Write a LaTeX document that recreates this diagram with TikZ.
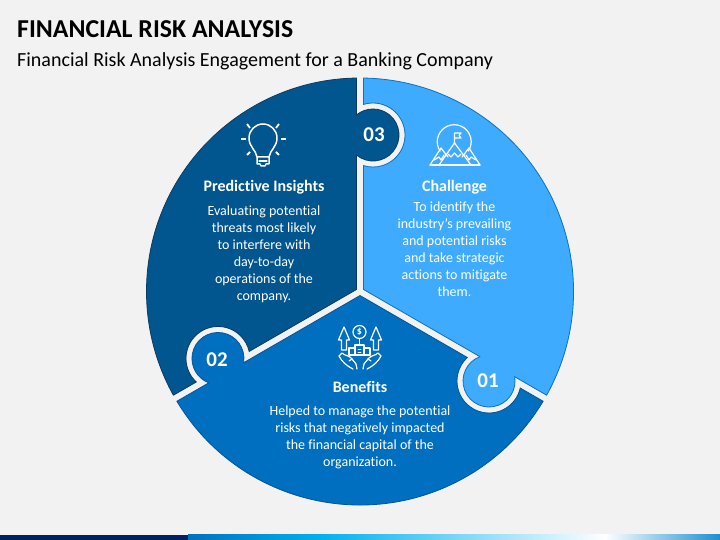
\documentclass[tikz,border=0pt]{standalone}
\usepackage{fontspec}
\setmainfont[Ligatures=NoCommon]{Carlito}
\definecolor{pagebg}{HTML}{F2F2F2}
\definecolor{darkfill}{HTML}{02568F}
\definecolor{darkline}{HTML}{0B3A62}
\definecolor{midfill}{HTML}{006FC0}
\definecolor{midline}{HTML}{00559A}
\definecolor{lightfill}{HTML}{3FABFF}
\definecolor{lightline}{HTML}{0A72BE}
\definecolor{barnavy}{HTML}{002060}
\definecolor{barblue}{HTML}{0070C0}
\definecolor{barcyan}{HTML}{00B0F0}
\definecolor{barend}{HTML}{1C8FD0}
\tikzset{
  pxgrid/.style={yshift=540pt,y=-1pt},
  sectorline/.style={line width=.8pt,line join=miter},
  head/.style={text=white,font=\fontsize{16}{17}\selectfont\bfseries},
  body/.style={text=white,align=center,font=\fontsize{14}{17}\selectfont},
  tabnum/.style={text=white,font=\fontsize{21}{21}\selectfont\bfseries},
  icon/.style={draw=white,line width=1.2pt,line join=round,line cap=round},
}
\begin{document}
\begin{tikzpicture}[x=1pt,y=1pt]
\useasboundingbox (0,0) rectangle (720,540);
\fill[pagebg] (0,0) rectangle (720,540);
% bottom bar
\fill[barnavy] (0,0) rectangle (188,5);
\shade[left color=barblue,right color=barcyan] (188,0) rectangle (320,5);
\shade[left color=barcyan,right color=white] (320,0) rectangle (605,5);
\shade[left color=white,right color=barend] (605,0) rectangle (720,5);
% three sectors, one shape turned about the middle
\foreach \ang/\fillc/\linec in {0/darkfill/darkline,120/midfill/midline,-120/lightfill/lightline}{
\draw[sectorline,fill=\fillc,draw=\linec,shift={(360,248.5)},rotate=\ang]
  (-3.5,2.02) -- (-3.5,136.41)
  arc[start angle=-129.4,end angle=129.4,radius=26]
  -- (-3.5,213.47)
  arc[start angle=90.94,end angle=209.06,radius=213.5]
  -- (-163.72,-90.49)
  arc[start angle=227.27,end angle=12.73,radius=32]
  -- cycle;
}
\begin{scope}[pxgrid]
\node[anchor=base west,inner sep=0pt,font=\fontsize{25.8}{26}\selectfont\bfseries] (title) at (17,38) {FINANCIAL RISK ANALYSIS};
\node[anchor=base west,inner sep=0pt,font=\fontsize{20}{20}\selectfont] (subtitle) at (17,67) {Financial Risk Analysis Engagement for a Banking Company};
% tab numbers
\node[tabnum] (num3) at (374,135) {03};
\node[tabnum] (num2) at (217,360) {02};
\node[tabnum] (num1) at (488,381) {01};
% texts
\node[head] (insights) at (264,187) {Predictive Insights};
\node[body] (insightstext) at (264,254) {Evaluating potential\\threats most likely\\to interfere with\\day-to-day\\operations of the\\company.};
\node[head] (challenge) at (454.5,187) {Challenge};
\node[body] (challengetext) at (454.5,249) {To identify the\\industry’s prevailing\\and potential risks\\and take strategic\\actions to mitigate\\them.};
\node[head] (benefits) at (360,387) {Benefits};
\node[body] (benefitstext) at (360,437) {Helped to manage the potential\\risks that negatively impacted\\the financial capital of the\\organization.};
% bulb icon
\draw[icon,line width=1.5pt] (257,157) .. controls (256,150) and (249,147) .. (249,138)
  arc[start angle=180,end angle=360,radius=14]
  .. controls (277,147) and (270,150) .. (269,157) -- cycle;
\draw[icon,line width=1.5pt] (257,157) -- (257,164) -- (260,164) -- (261,166) -- (265,166) -- (266,164) -- (269,164) -- (269,157);
\draw[icon,line width=1.2pt] (259,161) -- (267,161);
\foreach \xa/\ya/\xb/\yb in {241/139/246/139,281/139/286/139,247/124/250/128,279/124/276/128,247/155/250/152,279/155/276/152}{
\draw[icon,line width=1.8pt,line cap=butt] (\xa,\ya) -- (\xb,\yb);
}
% mountain icon
\draw[icon] (440,151) arc[start angle=147,end angle=393,radius=17];
\draw[icon] (430,165) -- (480,165);
\draw[icon] (430,165) -- (441,148) -- (448,157);
\draw[icon] (480,165) -- (469,148) -- (462,157);
\draw[icon] (439,165) -- (454.5,143) -- (471,165);
\draw[icon] (448,154) -- (451,157) -- (454.5,153) -- (458,157) -- (461,154);
\draw[icon] (434,160) -- (439,157) -- (441,160) -- (444,155);
\draw[icon] (476,160) -- (471,157) -- (469,160) -- (466,155);
\draw[icon] (454.5,143) -- (454.5,133) -- (461,133) -- (459,135.5) -- (461,138) -- (454.5,138);
% benefits icon
\foreach \xm in {344,376}{
\draw[icon] (\xm-2.5,350) -- (\xm-2.5,340) -- (\xm-5.5,340) -- (\xm,327) -- (\xm+5.5,340) -- (\xm+2.5,340) -- (\xm+2.5,350) -- cycle;
}
\draw[icon] (359.5,332) circle[radius=6.5];
\node[text=white,inner sep=0pt,font=\fontsize{10}{10}\selectfont\bfseries] (dollar) at (359.5,332) {\$};
\draw[icon] (359.5,338.5) -- (359.5,345);
\draw[icon] (355,355) -- (355,345) -- (364,345) -- (364,355);
\draw[icon] (349,355) -- (349,348) -- (355,348);
\draw[icon] (370,355) -- (370,348) -- (364,348);
\draw[icon] (349,355) -- (370,355);
\draw[icon,line width=.8pt] (358,349) -- (361,349) (358,352) -- (361,352);
\draw[icon] (339,356) .. controls (342,362) and (347,366) .. (353,369);
\draw[icon] (339,356) -- (342,353) .. controls (345,356) and (349,355) .. (352,359) -- (356,364) -- (357,369);
\draw[icon] (352,359) -- (349,361);
\draw[icon] (381,356) .. controls (378,362) and (373,366) .. (367,369);
\draw[icon] (381,356) -- (378,353) .. controls (375,356) and (371,355) .. (368,359) -- (364,364) -- (363,369);
\draw[icon] (368,359) -- (371,361);
\end{scope}
\end{tikzpicture}
\end{document}
